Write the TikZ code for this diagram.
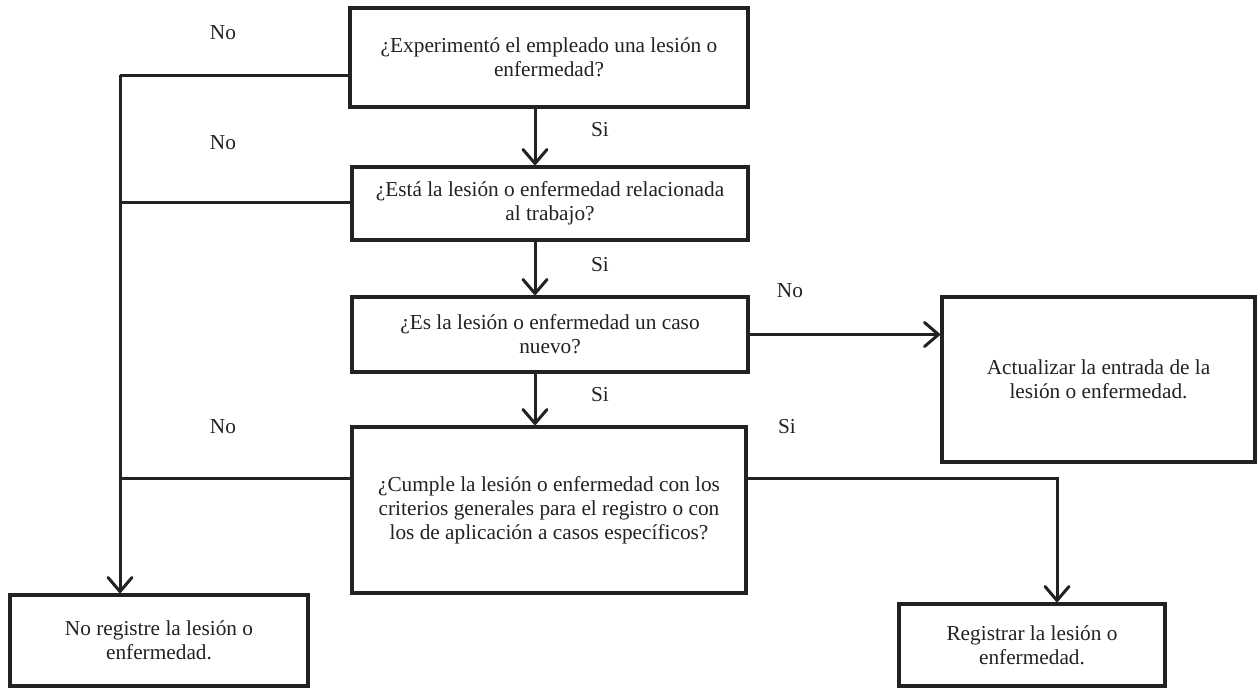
\documentclass[tikz,border=0pt]{standalone}
\usepackage{fontspec}
\setmainfont{Liberation Serif}
\usetikzlibrary{arrows.meta}
\definecolor{ink}{HTML}{222222}
\begin{document}
\begin{tikzpicture}[x=1pt,y=-1pt,
  box/.style={draw=ink,line width=4pt,rectangle,inner sep=2pt,align=center,text=ink,
    font=\fontsize{21.3}{24}\selectfont},
  conn/.style={draw=ink,line width=3pt},
  arr/.style={conn,-{Straight Barb[length=14pt,width=24pt,line width=3pt,round]}},
  lab/.style={text=ink,font=\fontsize{21.3}{24}\selectfont,inner sep=0pt}]
\useasboundingbox (0,0) rectangle (1260,688);
\fill[white] (0,0) rectangle (1260,688);
\node[box,minimum width=398pt,minimum height=99pt] (b1) at (549,57.5)
  {¿Experimentó el empleado una lesión o\\enfermedad?};
\node[box,minimum width=396pt,minimum height=73pt] (b2) at (550,203.5)
  {¿Está la lesión o enfermedad relacionada\\al trabajo?};
\node[box,minimum width=396pt,minimum height=75pt] (b3) at (550,334.5)
  {¿Es la lesión o enfermedad un caso\\nuevo?};
\node[box,minimum width=313pt,minimum height=165pt] (b4) at (1098.5,379.5)
  {Actualizar la entrada de la\\lesión o enfermedad.};
\node[box,minimum width=394pt,minimum height=166pt] (b5) at (549,510)
  {¿Cumple la lesión o enfermedad con los\\criterios generales para el registro o con\\los de aplicación a casos específicos?};
\node[box,minimum width=298pt,minimum height=91pt] (b6) at (159,640.5)
  {No registre la lesión o\\enfermedad.};
\node[box,minimum width=266pt,minimum height=82pt] (b7) at (1032,645)
  {Registrar la lesión o\\enfermedad.};
% vertical axis for yes arrows
\coordinate (ax) at (535,0);
\draw[arr] (b1.south -| ax) -- (b2.north -| ax);
\draw[arr] (b2.south -| ax) -- (b3.north -| ax);
\draw[arr] (b3.south -| ax) -- (b5.north -| ax);
% left "No" branch
\coordinate (j1) at (120,75);
\coordinate (j2) at (120,202);
\coordinate (j3) at (120,478);
\draw[conn] (b1.west |- j1) -- (j1);
\draw[arr] (j1) -- (j1 |- b6.north);
\draw[conn] (b2.west |- j2) -- (j2);
\draw[conn] (b5.west |- j3) -- (j3);
% right branches
\draw[arr] (b3.east) -- (b3.east -| b4.west);
\coordinate (r1) at (1057,478);
\draw[arr] (b5.east |- r1) -- (r1) -- (r1 |- b7.north);
% labels
\node[lab] (n1) at (223,33) {No};
\node[lab] (n2) at (223,143) {No};
\node[lab] (n3) at (223,427) {No};
\node[lab] (n4) at (790,291) {No};
\node[lab] (s1) at (600,130) {Si};
\node[lab] (s2) at (600,265) {Si};
\node[lab] (s3) at (600,395) {Si};
\node[lab] (s4) at (787,427) {Si};
\end{tikzpicture}
\end{document}
